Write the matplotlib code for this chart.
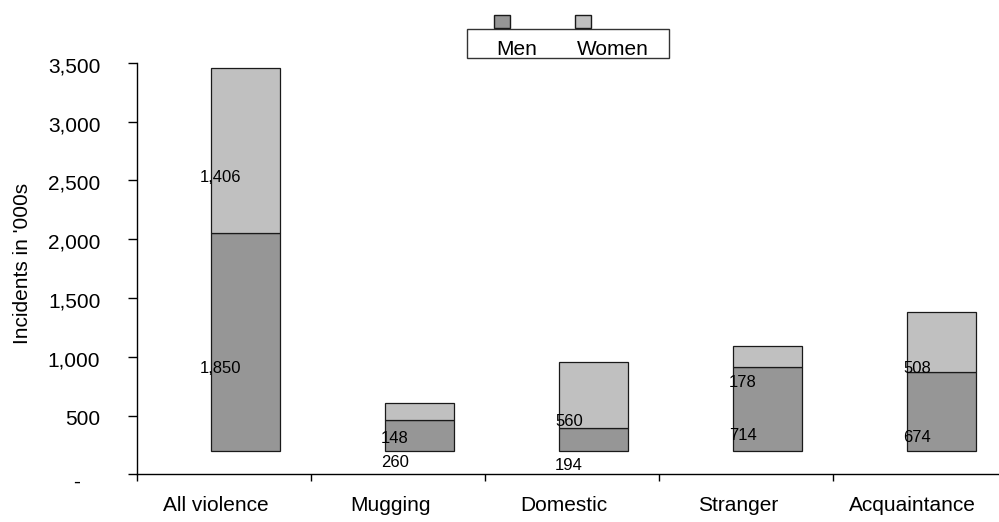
import matplotlib
matplotlib.use("Agg")
import matplotlib.pyplot as plt
from matplotlib.patches import Rectangle
from matplotlib.transforms import ScaledTranslation, blended_transform_factory

plt.rcParams['font.family'] = ['Liberation Sans', 'DejaVu Sans']

categories = ["All violence", "Mugging", "Domestic", "Stranger", "Acquaintance"]
men = [1850, 260, 194, 714, 674]
women = [1406, 148, 560, 178, 508]
y_ticks = [0, 500, 1000, 1500, 2000, 2500, 3000, 3500]
y_tick_labels = ["-", "500", "1,000", "1,500", "2,000", "2,500", "3,000", "3,500"]
series_names = ["Men", "Women"]

MEN_COLOR = "#969696"
WOMEN_COLOR = "#c0c0c0"
BASE = 200  # bars sit on a raised floor above the axis

W, H, DPI = 999, 522, 100
fig = plt.figure(figsize=(W / DPI, H / DPI), dpi=DPI)

# axes box in pixels (left, top, right, bottom); right edge runs past the canvas
ax_l, ax_t, ax_r, ax_b = 137.3, 62.7, 1007.3, 474.3
ax = fig.add_axes([ax_l / W, 1 - ax_b / H, (ax_r - ax_l) / W, (ax_b - ax_t) / H])

x = list(range(len(categories)))
bar_shift = 0.121   # bars sit right of the category slot centre
bar_w = 0.40
xb = [i + bar_shift for i in x]
ax.bar(xb, men, bar_w, bottom=BASE, color=MEN_COLOR, edgecolor="#1a1a1a", linewidth=0.9, zorder=2)
ax.bar(xb, women, bar_w, bottom=[BASE + m for m in men], color=WOMEN_COLOR,
       edgecolor="#1a1a1a", linewidth=0.9, zorder=2)

ax.set_xlim(-0.5, len(categories) - 0.5)
ax.set_ylim(0, 3500)

for s in ("top", "right"):
    ax.spines[s].set_visible(False)
for s in ("left", "bottom"):
    ax.spines[s].set_linewidth(1.0)
    ax.spines[s].set_color("black")

# value labels, centred on each segment measured from zero
down = ScaledTranslation(0, -3 / DPI, fig.dpi_scale_trans)
lab_dx = -0.02
for i in x:
    ax.text(i + lab_dx, men[i] / 2, f"{men[i]:,}", ha="center", va="center",
            fontsize=12, color="black", transform=ax.transData + down, zorder=3)
    ax.text(i + lab_dx, men[i] + women[i] / 2, f"{women[i]:,}", ha="center", va="center",
            fontsize=12, color="black", transform=ax.transData + down, zorder=3)

# y axis ticks and labels
ax.set_yticks(y_ticks)
ax.set_yticklabels([])
ax.tick_params(axis="y", direction="out", length=6.5, width=1.0, color="black")
ytrans = blended_transform_factory(ax.transAxes, ax.transData)
for v, lab in zip(y_ticks, y_tick_labels):
    if lab == "-":
        off = ScaledTranslation(-57 / DPI, -8 / DPI, fig.dpi_scale_trans)
    else:
        off = ScaledTranslation(-37 / DPI, -4 / DPI, fig.dpi_scale_trans)
    ax.text(0, v, lab, ha="right", va="center", fontsize=15, transform=ytrans + off,
            clip_on=False)

# x axis: tick marks between categories, names just left of each slot centre
ax.set_xticks(x)
ax.set_xticklabels(categories, fontsize=15)
ax.tick_params(axis="x", which="major", length=0, pad=15.6)
left = ScaledTranslation(-8 / DPI, 0, fig.dpi_scale_trans)
for t in ax.get_xticklabels():
    t.set_transform(t.get_transform() + left)
ax.set_xticks([i - 0.5 for i in range(len(categories) + 1)], minor=True)
ax.tick_params(axis="x", which="minor", direction="out", length=5, width=1.0, color="black")

ax.set_ylabel("Incidents in '000s", fontsize=15)
ax.yaxis.set_label_coords(32 / W, 1 - 263 / H, transform=fig.transFigure)

# legend: framed box with colour keys sitting on its top edge
fig.patches.append(Rectangle((466.7 / W, 1 - 57.7 / H), 202.3 / W, 28.4 / H,
                             transform=fig.transFigure, facecolor="white",
                             edgecolor="#333333", linewidth=1.0))
for name, col, lx in zip(series_names, [MEN_COLOR, WOMEN_COLOR], [494.3, 575.0]):
    fig.patches.append(Rectangle((lx / W, 1 - 28.3 / H), 16 / W, 13.3 / H,
                                 transform=fig.transFigure, facecolor=col,
                                 edgecolor="#1a1a1a", linewidth=1.0))
    fig.text((lx + 1.5) / W, 1 - 55 / H, name, fontsize=15, ha="left", va="baseline")

fig.savefig("out.png", dpi=DPI)
